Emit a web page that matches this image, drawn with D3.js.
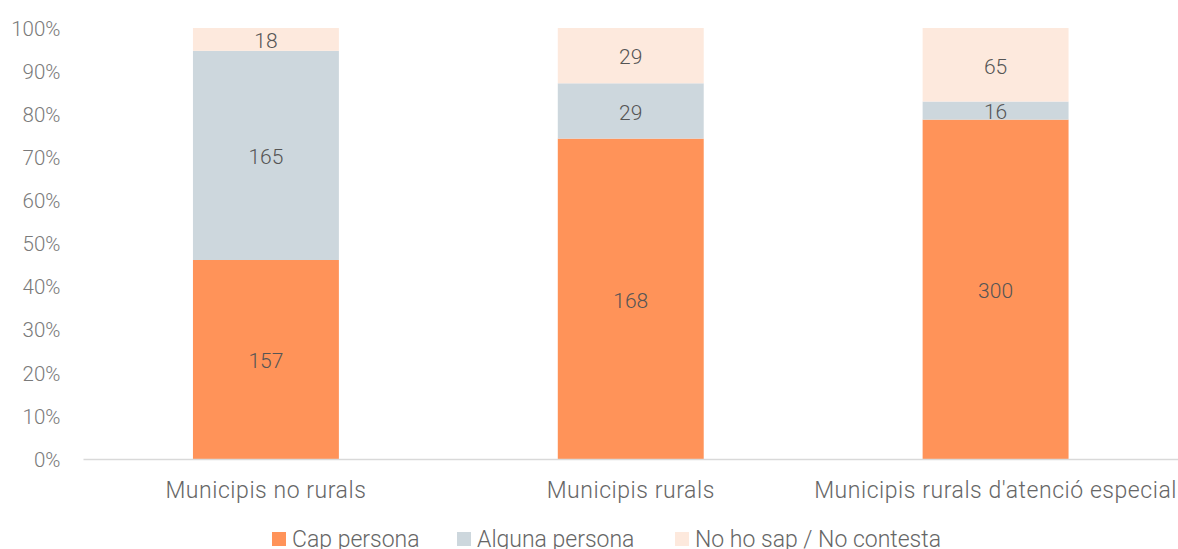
<!DOCTYPE html>
<html>
<head>
<meta charset="utf-8">
<script src="https://cdn.jsdelivr.net/npm/d3@7"></script>
<style>
  body { margin: 0; background: #fff; }
  text { font-family: Roboto, sans-serif; font-weight: 300; }
</style>
</head>
<body>
<div id="chart"></div>
<script>
// categories and series
const categories = ["Municipis no rurals", "Municipis rurals", "Municipis rurals d'atenció especial"];
const seriesNames = ["Cap persona", "Alguna persona", "No ho sap / No contesta"];
const capPersona = [157, 168, 300];
const algunaPersona = [165, 29, 16];
const noHoSap = [18, 29, 65];
const yTicks = [0, 0.1, 0.2, 0.3, 0.4, 0.5, 0.6, 0.7, 0.8, 0.9, 1];

const colors = ["#FF9359", "#CDD7DD", "#FDE9DD"];

const W = 1178, H = 549;
const margin = {top: 28, right: 0, bottom: 90, left: 83.5};
const width = W - margin.left - margin.right,
    height = 459 - margin.top;

const svg = d3.select("#chart")
    .append("svg")
    .attr("width", W)
    .attr("height", H)
    .append("g")
    .attr("transform", `translate(${margin.left},${margin.top})`);

// build rows of shares
const rows = categories.map((c, i) => {
    const vals = [capPersona[i], algunaPersona[i], noHoSap[i]];
    const total = d3.sum(vals);
    return {cat: c, vals: vals, total: total};
});

const x = d3.scaleBand()
    .domain(categories)
    .range([0, width])
    .paddingInner(0.6)
    .paddingOuter(0.3);

const y = d3.scaleLinear()
    .domain([0, 1])
    .range([height, 0]);

// y tick labels
svg.append("g")
    .selectAll("text")
    .data(yTicks)
    .join("text")
    .attr("x", -23)
    .attr("y", d => y(d))
    .attr("dy", "0.38em")
    .attr("text-anchor", "end")
    .style("font-size", "20.5px")
    .style("fill", "#7a7a7a")
    .text(d => d3.format(".0%")(d));

// stacked segments
rows.forEach(r => {
    let acc = 0;
    r.vals.forEach((v, k) => {
        const y0 = acc / r.total, y1 = (acc + v) / r.total;
        acc += v;
        svg.append("rect")
            .attr("x", x(r.cat))
            .attr("width", x.bandwidth())
            .attr("y", y(y1))
            .attr("height", y(y0) - y(y1))
            .style("fill", colors[k]);
        svg.append("text")
            .attr("x", x(r.cat) + x.bandwidth() / 2)
            .attr("y", (y(y0) + y(y1)) / 2)
            .attr("dy", "0.42em")
            .attr("text-anchor", "middle")
            .style("font-size", "21px")
            .style("fill", "#555")
            .text(v);
    });
});

// baseline
svg.append("line")
    .attr("x1", 0)
    .attr("x2", width)
    .attr("y1", height + 0.5)
    .attr("y2", height + 0.5)
    .style("stroke", "#d9d9d9")
    .style("stroke-width", 1.5);

// category labels
svg.append("g")
    .selectAll("text")
    .data(categories)
    .join("text")
    .attr("x", d => x(d) + x.bandwidth() / 2)
    .attr("y", height + 39)
    .attr("text-anchor", "middle")
    .style("font-size", "23px")
    .style("letter-spacing", "0.55px")
    .style("fill", "#666")
    .text(d => d);

// legend
const legendX = [272, 457, 675];
const legend = svg.append("g")
    .attr("transform", `translate(${-margin.left},0)`);
seriesNames.forEach((s, k) => {
    legend.append("rect")
        .attr("x", legendX[k])
        .attr("y", 532 - margin.top)
        .attr("width", 14)
        .attr("height", 14)
        .style("fill", colors[k]);
    legend.append("text")
        .attr("x", legendX[k] + 20)
        .attr("y", 547 - margin.top)
        .style("font-size", "23px")
        .style("fill", "#666")
        .text(s);
});
</script>
</body>
</html>
